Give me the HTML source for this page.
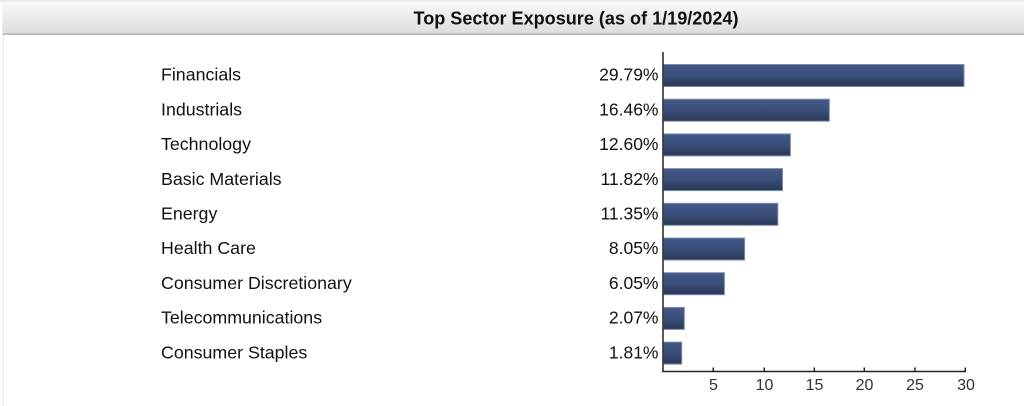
<!DOCTYPE html>
<html>
<head>
<meta charset="utf-8">
<style>
  html, body { margin:0; padding:0; background:#fff; }
  body { width:1024px; height:406px; overflow:hidden; position:relative; }
  svg { display:block; }
  text { font-family: "Liberation Sans", Arial, sans-serif; }
</style>
</head>
<body>
<svg width="1024" height="406" viewBox="0 0 1024 406" xmlns="http://www.w3.org/2000/svg">
  <defs>
    <linearGradient id="hdr" x1="0" y1="0" x2="0" y2="1">
      <stop offset="0" stop-color="#f8f8fa"/>
      <stop offset="0.45" stop-color="#ededf0"/>
      <stop offset="1" stop-color="#dcdce0"/>
    </linearGradient>
    <linearGradient id="bar" x1="0" y1="0" x2="0" y2="1">
      <stop offset="0" stop-color="#44598a"/>
      <stop offset="0.5" stop-color="#3a4e78"/>
      <stop offset="1" stop-color="#2a3858"/>
    </linearGradient>
  </defs>

  <!-- page frame -->
  <rect x="0" y="0" width="1024" height="406" fill="#fff"/>
  <rect x="0" y="0" width="1024" height="2" fill="#ececee"/>
  <rect x="2" y="0" width="2" height="406" fill="#f0f0f0"/>

  <!-- header -->
  <rect x="3" y="2" width="1021" height="32" fill="url(#hdr)"/>
  <rect x="3" y="33" width="1021" height="2" fill="#bdbdc1"/>
  <text x="413.5" y="24.5" font-size="18" font-weight="bold" fill="#111" textLength="325" lengthAdjust="spacingAndGlyphs">Top Sector Exposure (as of 1/19/2024)</text>

  <!-- bars -->
  <g stroke="#7f8ca6" stroke-width="1" fill="url(#bar)">
    <rect x="663.5" y="64.5" width="300.5" height="22"/>
    <rect x="663.5" y="99.2" width="165.8" height="22"/>
    <rect x="663.5" y="133.9" width="126.9" height="22"/>
    <rect x="663.5" y="168.6" width="119" height="22"/>
    <rect x="663.5" y="203.3" width="114.3" height="22"/>
    <rect x="663.5" y="238" width="81.1" height="22"/>
    <rect x="663.5" y="272.7" width="60.9" height="22"/>
    <rect x="663.5" y="307.4" width="20.8" height="22"/>
    <rect x="663.5" y="342.1" width="18.2" height="22"/>
  </g>

  <!-- category labels -->
  <g font-size="17.8" fill="#111">
    <text x="161" y="80.7">Financials</text>
    <text x="161" y="115.4">Industrials</text>
    <text x="161" y="150.1">Technology</text>
    <text x="161" y="184.8">Basic Materials</text>
    <text x="161" y="219.5">Energy</text>
    <text x="161" y="254.2">Health Care</text>
    <text x="161" y="288.9">Consumer Discretionary</text>
    <text x="161" y="323.6">Telecommunications</text>
    <text x="161" y="358.3">Consumer Staples</text>
  </g>

  <!-- value labels -->
  <g font-size="17.5" fill="#111" text-anchor="end">
    <text x="658.5" y="80.7">29.79%</text>
    <text x="658.5" y="115.4">16.46%</text>
    <text x="658.5" y="150.1">12.60%</text>
    <text x="658.5" y="184.8">11.82%</text>
    <text x="658.5" y="219.5">11.35%</text>
    <text x="658.5" y="254.2">8.05%</text>
    <text x="658.5" y="288.9">6.05%</text>
    <text x="658.5" y="323.6">2.07%</text>
    <text x="658.5" y="358.3">1.81%</text>
  </g>

  <!-- axes -->
  <g stroke="#222" stroke-width="1.5" fill="none">
    <line x1="663" y1="52" x2="663" y2="372"/>
    <line x1="662.3" y1="371.5" x2="966" y2="371.5"/>
    <line x1="713.3" y1="367.5" x2="713.3" y2="371.5"/>
    <line x1="764.3" y1="367.5" x2="764.3" y2="371.5"/>
    <line x1="814.3" y1="367.5" x2="814.3" y2="371.5"/>
    <line x1="864.3" y1="367.5" x2="864.3" y2="371.5"/>
    <line x1="915" y1="367.5" x2="915" y2="371.5"/>
    <line x1="965.3" y1="367.5" x2="965.3" y2="371.5"/>
  </g>
  <g font-size="16" fill="#333" text-anchor="middle">
    <text x="713.5" y="390">5</text>
    <text x="764.5" y="390">10</text>
    <text x="814.5" y="390">15</text>
    <text x="864.5" y="390">20</text>
    <text x="915" y="390">25</text>
    <text x="966" y="390">30</text>
  </g>
</svg>
</body>
</html>
